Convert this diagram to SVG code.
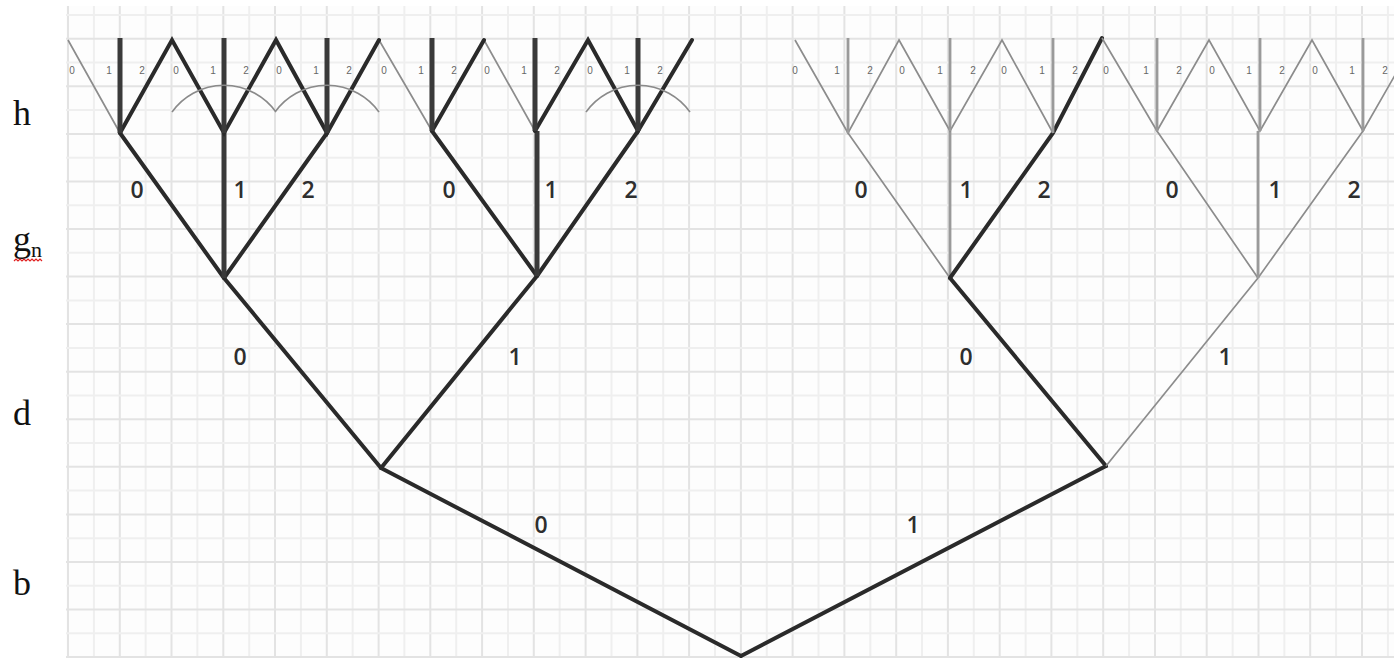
<svg xmlns="http://www.w3.org/2000/svg" width="1394" height="658" viewBox="0 0 1394 658">
<style>
.gl{stroke:#efefef;stroke-width:2;fill:none}
.gd{stroke:#e3e3e3;stroke-width:2;fill:none}
.thick{stroke:#2a2a2a;stroke-width:4;fill:none;stroke-linecap:round}
.vthick{stroke:#3a3a3a;stroke-width:5;fill:none}
.thin{stroke:#8c8c8c;stroke-width:1.7;fill:none}
.vgray{stroke:#9a9a9a;stroke-width:2.8;fill:none}
.arc{stroke:#8a8a8a;stroke-width:1.6;fill:none}
.lvl{font-family:"Liberation Serif","Times New Roman",serif;font-size:36px;fill:#111}
.el{font-family:"Open Sans","Liberation Sans",sans-serif;font-size:23px;font-weight:600;fill:#2e2e2e;text-anchor:middle}
.leaf{font-family:"Liberation Sans",Arial,sans-serif;font-size:10px;fill:#666;text-anchor:middle}
</style>
<rect width="1394" height="658" fill="#ffffff"/>
<g id="grid">
<rect x="66" y="6" width="1328" height="652" fill="#fdfdfd"/>
<path class="gd" d="M68,6V658M119.8,6V658M171.5,6V658M223.3,6V658M275,6V658M326.8,6V658M378.6,6V658M430.3,6V658M482.1,6V658M533.8,6V658M585.6,6V658M637.4,6V658M689.1,6V658M740.9,6V658M792.6,6V658M844.4,6V658M896.2,6V658M947.9,6V658M999.7,6V658M1051.4,6V658M1103.2,6V658M1155,6V658M1206.7,6V658M1258.5,6V658M1310.2,6V658M1362,6V658"/>
<path class="gl" d="M93.9,6V658M145.6,6V658M197.4,6V658M249.2,6V658M300.9,6V658M352.7,6V658M404.4,6V658M456.2,6V658M508,6V658M559.7,6V658M611.5,6V658M663.2,6V658M715,6V658M766.8,6V658M818.5,6V658M870.3,6V658M922,6V658M973.8,6V658M1025.6,6V658M1077.3,6V658M1129.1,6V658M1180.8,6V658M1232.6,6V658M1284.4,6V658M1336.1,6V658M1387.9,6V658"/>
<path class="gd" d="M66,38.8H1394M66,86.3H1394M66,133.9H1394M66,181.5H1394M66,229H1394M66,276.6H1394M66,324.1H1394M66,371.7H1394M66,419.3H1394M66,466.8H1394M66,514.4H1394M66,561.9H1394M66,609.5H1394M66,657H1394"/>
<path class="gl" d="M66,15H1394M66,62.6H1394M66,110.1H1394M66,157.7H1394M66,205.2H1394M66,252.8H1394M66,300.4H1394M66,347.9H1394M66,395.5H1394M66,443H1394M66,490.6H1394M66,538.2H1394M66,585.7H1394M66,633.3H1394"/>
</g>
<g id="level-labels">
<text class="lvl" x="13" y="125">h</text>
<text class="lvl" x="13" y="251">g<tspan font-size="22" dy="6">n</tspan></text>
<path d="M14,261 l2,-2 l2,2 l2,-2 l2,2 l2,-2 l2,2 l2,-2 l2,2 l2,-2 l2,2 l2,-2 l2,2 l2,-2 l2,2" stroke="#e02020" stroke-width="1.2" fill="none"/>
<text class="lvl" x="13" y="425">d</text>
<text class="lvl" x="13" y="595">b</text>
</g>
<g id="connectors">
<path class="thick" d="M741,656L381,468M741,656L1106,466"/>
<path class="thick" d="M381,468L224,278M381,468L537,276M1106,466L950,278"/>
<path class="thin" d="M1106,466L1258,278"/>
<path class="thick" d="M224,278L120,133M224,278L327,133M537,276L432,131M537,276L638,131"/>
<path class="vthick" d="M224,278V133M537,276V131"/>
<path class="thin" d="M950,278L848,133M1258,278L1157,131M1258,278L1363,131"/>
<path class="vgray" d="M950,278V131M1258,278V131"/>
<path class="thick" d="M950,278L1053,133L1102,38"/>
<path class="thin" d="M120,133L68,40M432,131L379,40M535,131L484,40"/>
<path class="thick" d="M120,133L172,40L224,133L276,40L327,133L379,40M432,131L484,40M535,131L588,40L638,131L692,40"/>
<path class="vthick" d="M120,133V38M224,133V38M327,133V38M432,131V38M535,131V38M638,131V38"/>
<path class="thin" d="M848,133L795,40L848,133L899,40L950,131L1002,40L1053,133M1102,38L1157,131L1209,40L1260,131L1312,40L1363,131L1418,35M950,131L899,40"/>
<path class="vgray" d="M848,133V38M950,131V38M1053,133V38M1157,131V38M1260,131V38M1363,131V38"/>
<path class="arc" d="M172,112A64,64 0 0 1 276,112M275,112A64,64 0 0 1 379,112M586,112A64,64 0 0 1 690,112"/>
</g>
<g id="edge-labels">
<text class="el" x="541" y="533">0</text>
<text class="el" x="913" y="533">1</text>
<text class="el" x="240" y="365">0</text>
<text class="el" x="515" y="365">1</text>
<text class="el" x="966" y="365">0</text>
<text class="el" x="1225" y="365">1</text>
<text class="el" x="137" y="198">0</text>
<text class="el" x="240" y="198">1</text>
<text class="el" x="308" y="198">2</text>
<text class="el" x="449" y="198">0</text>
<text class="el" x="551" y="198">1</text>
<text class="el" x="631" y="198">2</text>
<text class="el" x="861" y="198">0</text>
<text class="el" x="966" y="198">1</text>
<text class="el" x="1044" y="198">2</text>
<text class="el" x="1172" y="198">0</text>
<text class="el" x="1275" y="198">1</text>
<text class="el" x="1354" y="198">2</text>
</g>
<g id="leaf-labels">
<text class="leaf" x="72" y="74">0</text><text class="leaf" x="109" y="74">1</text><text class="leaf" x="142" y="74">2</text>
<text class="leaf" x="176" y="74">0</text><text class="leaf" x="213" y="74">1</text><text class="leaf" x="246" y="74">2</text>
<text class="leaf" x="279" y="74">0</text><text class="leaf" x="316" y="74">1</text><text class="leaf" x="349" y="74">2</text>
<text class="leaf" x="384" y="74">0</text><text class="leaf" x="421" y="74">1</text><text class="leaf" x="454" y="74">2</text>
<text class="leaf" x="487" y="74">0</text><text class="leaf" x="524" y="74">1</text><text class="leaf" x="557" y="74">2</text>
<text class="leaf" x="590" y="74">0</text><text class="leaf" x="627" y="74">1</text><text class="leaf" x="660" y="74">2</text>
<text class="leaf" x="795" y="74">0</text><text class="leaf" x="837" y="74">1</text><text class="leaf" x="870" y="74">2</text>
<text class="leaf" x="902" y="74">0</text><text class="leaf" x="940" y="74">1</text><text class="leaf" x="973" y="74">2</text>
<text class="leaf" x="1004" y="74">0</text><text class="leaf" x="1042" y="74">1</text><text class="leaf" x="1075" y="74">2</text>
<text class="leaf" x="1106" y="74">0</text><text class="leaf" x="1146" y="74">1</text><text class="leaf" x="1179" y="74">2</text>
<text class="leaf" x="1212" y="74">0</text><text class="leaf" x="1249" y="74">1</text><text class="leaf" x="1282" y="74">2</text>
<text class="leaf" x="1315" y="74">0</text><text class="leaf" x="1352" y="74">1</text><text class="leaf" x="1385" y="74">2</text>
</g>
</svg>
